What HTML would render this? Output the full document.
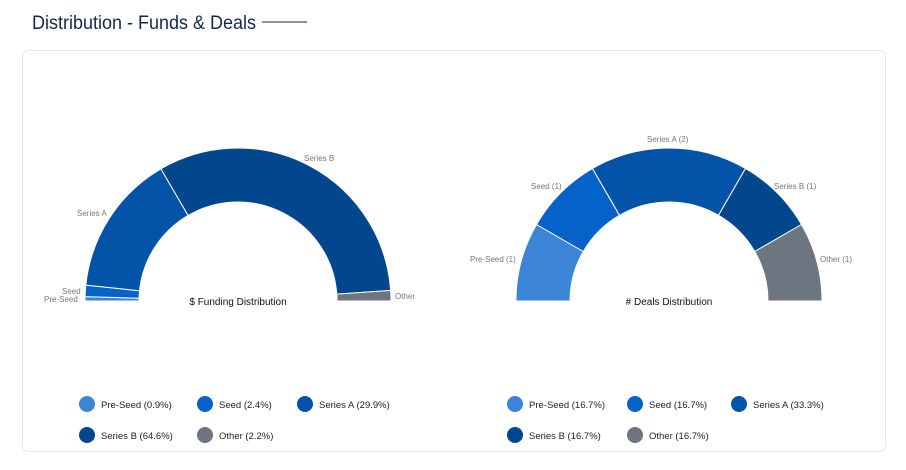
<!DOCTYPE html>
<html><head><meta charset="utf-8"><style>
body{margin:0;background:#fff;width:906px;height:465px;overflow:hidden;font-family:"Liberation Sans",sans-serif}
</style></head><body>
<svg width="906" height="465" xmlns="http://www.w3.org/2000/svg" id="s" font-family="Liberation Sans, sans-serif">
<text x="32" y="29" font-size="19" fill="#13294b" textLength="224" lengthAdjust="spacingAndGlyphs">Distribution - Funds &amp; Deals</text>
<line x1="262" y1="22" x2="307" y2="22" stroke="#13294b" stroke-width="1"/>
<rect x="22.5" y="50.5" width="863" height="401" rx="6" fill="#fff" stroke="#e6e8eb"/>
<g id="g"></g>
<g font-size="8" fill="#777">
<text x="304" y="161">Series B</text>
<text x="77" y="216">Series A</text>
<text x="62" y="294">Seed</text>
<text x="44" y="302">Pre-Seed</text>
<text x="395" y="299">Other</text>
<text x="647" y="142">Series A (2)</text>
<text x="531" y="189">Seed (1)</text>
<text x="774" y="189">Series B (1)</text>
<text x="470" y="262">Pre-Seed (1)</text>
<text x="820" y="262">Other (1)</text>
</g>
<g font-size="10" fill="#111" text-anchor="middle">
<text x="238" y="305">$ Funding Distribution</text>
<text x="669" y="305"># Deals Distribution</text>
</g>
<g font-size="9.5" fill="#222">
<circle cx="87" cy="404" r="8" fill="#3b84d6"/><text x="101" y="408">Pre-Seed (0.9%)</text>
<circle cx="205" cy="404" r="8" fill="#0562c8"/><text x="219" y="408">Seed (2.4%)</text>
<circle cx="305" cy="404" r="8" fill="#0353a8"/><text x="319" y="408">Series A (29.9%)</text>
<circle cx="87" cy="435" r="8" fill="#02468e"/><text x="101" y="439">Series B (64.6%)</text>
<circle cx="205" cy="435" r="8" fill="#6c7580"/><text x="219" y="439">Other (2.2%)</text>
<circle cx="515" cy="404" r="8" fill="#3b84d6"/><text x="529" y="408">Pre-Seed (16.7%)</text>
<circle cx="635" cy="404" r="8" fill="#0562c8"/><text x="649" y="408">Seed (16.7%)</text>
<circle cx="739" cy="404" r="8" fill="#0353a8"/><text x="753" y="408">Series A (33.3%)</text>
<circle cx="515" cy="435" r="8" fill="#02468e"/><text x="529" y="439">Series B (16.7%)</text>
<circle cx="635" cy="435" r="8" fill="#6c7580"/><text x="649" y="439">Other (16.7%)</text>
</g>
</svg>
<script>
var cols=["#3b84d6","#0562c8","#0353a8","#02468e","#6c7580"];
function donut(cx,cy,R,r,vals){
 var tot=vals.reduce((a,b)=>a+b,0),a=Math.PI,h="";
 vals.forEach(function(v,i){
  var b=a-Math.PI*v/tot;
  var p=function(rad,ang){return (cx+rad*Math.cos(ang)).toFixed(2)+" "+(cy-rad*Math.sin(ang)).toFixed(2)};
  h+='<path d="M'+p(R,a)+' A'+R+' '+R+' 0 0 1 '+p(R,b)+' L'+p(r,b)+' A'+r+' '+r+' 0 0 0 '+p(r,a)+' Z" fill="'+cols[i]+'" stroke="#fff" stroke-width="1"/>';
  a=b;});
 return h;}
document.getElementById("g").innerHTML=donut(238,301,153,99,[0.9,2.4,29.9,64.6,2.2])+donut(669,301,153,99,[1,1,2,1,1]);
</script>
</body></html>
